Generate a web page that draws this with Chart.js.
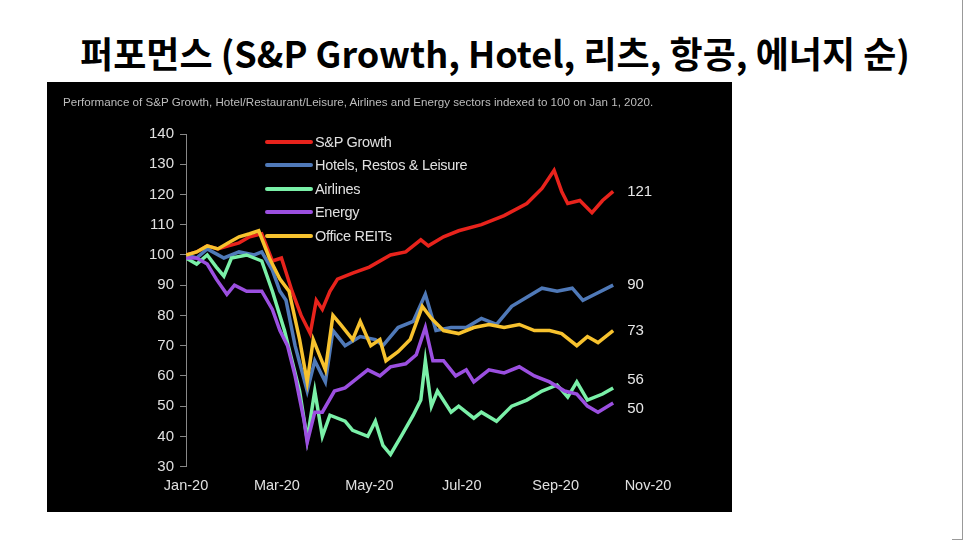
<!DOCTYPE html>
<html>
<head>
<meta charset="utf-8">
<script src="https://cdn.jsdelivr.net/npm/chart.js@4.4.0/dist/chart.umd.min.js"></script>
<style>
	body { margin: 0; width: 966px; height: 543px; background: #fff; position: relative; overflow: hidden; font-family: "Liberation Sans", Arial, sans-serif; }
	#title { position: absolute; left: 0; width: 990px; top: 26px; text-align: center; font: bold 36px "Noto Sans CJK KR", sans-serif; color: #000; }
	#panel { position: absolute; left: 47px; top: 82px; width: 685px; height: 430px; background: #000; }
	#sub { position: absolute; left: 16px; top: 13px; color: #bdbdbd; font: 11.6px "Liberation Sans", Arial, sans-serif; }
	#wrap { position: absolute; left: 0; top: 0; width: 685px; height: 430px; }
	#legend { position: absolute; left: 218px; top: 48px; color: #e0e0e0; font-size: 14.5px; letter-spacing: -0.3px; }
	#legend div { height: 23.5px; display: flex; align-items: center; }
	#legend span.sw { display: inline-block; width: 48px; height: 4px; margin-right: 2px; border-radius: 2px; }
	#edge { position: absolute; right: 3px; top: 0; bottom: 3px; border-right: 1px solid #999; border-bottom: 1px solid #999; width: 10px; }
</style>
</head>
<body>
<div id="title">퍼포먼스 (S&amp;P Growth, Hotel, 리츠, 항공, 에너지 순)</div>
<div id="panel">
	<div id="wrap"><canvas id="chart"></canvas></div>
	<div id="sub">Performance of S&amp;P Growth, Hotel/Restaurant/Leisure, Airlines and Energy sectors indexed to 100 on Jan 1, 2020.</div>
	<div id="legend"></div>
</div>
<div id="edge"></div>
<script>
'use strict';

// x values are days since Jan 1, 2020
var tickDays = [0, 60, 121, 182, 244, 305];
var tickLabels = ['Jan-20', 'Mar-20', 'May-20', 'Jul-20', 'Sep-20', 'Nov-20'];

var spgDays = [0, 7, 14, 21, 28, 35, 42, 50, 57, 63, 70, 76, 82, 86, 90, 95, 100, 110, 121, 135, 145, 155, 160, 170, 180, 195, 210, 225, 235, 243, 248, 252, 260, 268, 275, 282];
var spgVals = [100, 101, 103, 102, 103, 104, 106, 107, 98, 99, 88, 80, 74, 85, 82, 88, 92, 94, 96, 100, 101, 105, 103, 106, 108, 110, 113, 117, 122, 128, 121, 117, 118, 114, 118, 121];

var hotDays = [0, 7, 14, 25, 35, 45, 50, 57, 62, 66, 72, 80, 85, 92, 97, 105, 115, 125, 130, 140, 150, 158, 165, 175, 185, 195, 205, 215, 225, 235, 245, 255, 262, 270, 282];
var hotVals = [100, 99, 102, 99, 101, 100, 101, 95, 88, 85, 70, 55, 65, 58, 75, 70, 73, 72, 70, 76, 78, 87, 75, 76, 76, 79, 77, 83, 86, 89, 88, 89, 85, 87, 90];

var airDays = [0, 7, 14, 20, 25, 30, 40, 50, 57, 65, 75, 80, 85, 90, 95, 105, 110, 120, 125, 130, 135, 142, 150, 155, 158, 162, 166, 175, 180, 190, 195, 205, 215, 225, 235, 245, 252, 258, 265, 275, 282];
var airVals = [99, 97, 100, 96, 93, 99, 100, 98, 88, 75, 55, 39, 55, 40, 47, 45, 42, 40, 45, 37, 34, 40, 47, 52, 65, 50, 55, 48, 50, 46, 48, 45, 50, 52, 55, 57, 53, 58, 52, 54, 56];

var nrgDays = [0, 7, 14, 20, 27, 32, 40, 50, 57, 62, 67, 72, 78, 80, 85, 90, 98, 105, 110, 120, 128, 135, 145, 152, 158, 163, 170, 178, 185, 190, 200, 210, 220, 230, 240, 250, 258, 265, 272, 282];
var nrgVals = [99, 99, 97, 92, 87, 90, 88, 88, 82, 75, 70, 60, 45, 38, 48, 48, 55, 56, 58, 62, 60, 63, 64, 67, 76, 65, 65, 60, 62, 58, 62, 61, 63, 60, 58, 55, 54, 50, 48, 51];

var reitDays = [0, 7, 14, 21, 28, 35, 42, 48, 55, 62, 68, 75, 80, 84, 92, 97, 102, 110, 115, 122, 128, 132, 140, 148, 156, 162, 170, 180, 190, 200, 210, 220, 230, 240, 248, 258, 265, 272, 282];
var reitVals = [100, 101, 103, 102, 104, 106, 107, 108, 99, 92, 88, 72, 58, 72, 62, 80, 77, 72, 78, 70, 72, 65, 68, 72, 83, 79, 75, 74, 76, 77, 76, 77, 75, 75, 74, 70, 73, 71, 75];

var seriesNames = ['S&P Growth', 'Hotels, Restos & Leisure', 'Airlines', 'Energy', 'Office REITs'];
var seriesColors = ['#e8231c', '#4f79b8', '#7af0a8', '#9b4fe0', '#f7c22e'];
var endLabels = ['121', '90', '56', '50', '73'];
var endOffsets = [0, 0, -8, 6, 0];

function pts(days, vals) {
	return days.map(function(d, i) { return {x: d, y: vals[i]}; });
}

var allData = [pts(spgDays, spgVals), pts(hotDays, hotVals), pts(airDays, airVals), pts(nrgDays, nrgVals), pts(reitDays, reitVals)];

// legend
var legend = document.getElementById('legend');
seriesNames.forEach(function(n, i) {
	var row = document.createElement('div');
	row.innerHTML = '<span class="sw" style="background:' + seriesColors[i] + '"></span>' + n.replace('&', '&amp;');
	legend.appendChild(row);
});

var endLabelPlugin = {
	id: 'endLabels',
	afterDatasetsDraw: function(chart) {
		var c = chart.ctx;
		c.save();
		c.fillStyle = '#e6e6e6';
		c.font = '15px "Liberation Sans", Arial';
		c.textBaseline = 'middle';
		chart.data.datasets.forEach(function(ds) {
			var i = ds.seriesIndex;
			var last = ds.data[ds.data.length - 1];
			var x = chart.scales.x.getPixelForValue(last.x) + 14;
			var y = chart.scales.y.getPixelForValue(last.y) + endOffsets[i];
			c.fillText(endLabels[i], x, y);
		});
		c.restore();
	}
};

new Chart(document.getElementById('chart'), {
	type: 'line',
	data: {
		datasets: seriesNames.map(function(n, i) {
			return {
				label: n,
				seriesIndex: i,
				data: allData[i],
				borderColor: seriesColors[i],
				borderWidth: 3.5,
				pointRadius: 0,
				tension: 0
			};
		}).reverse()
	},
	options: {
		animation: false,
		responsive: true,
		maintainAspectRatio: false,
		layout: { padding: { left: 96, right: 84, top: 52, bottom: 14 } },
		plugins: { legend: { display: false }, tooltip: { enabled: false } },
		scales: {
			x: {
				type: 'linear',
				min: 0,
				max: 305,
				afterBuildTicks: function(axis) {
					axis.ticks = tickDays.map(function(d) { return {value: d}; });
				},
				ticks: {
					color: '#e0e0e0',
					font: { size: 14.5, family: '"Liberation Sans", Arial' },
					maxRotation: 0,
					autoSkip: false,
					callback: function(v) { return tickLabels[tickDays.indexOf(v)]; }
				},
				grid: { display: false },
				border: { display: false }
			},
			y: {
				min: 30,
				max: 140,
				ticks: {
					stepSize: 10,
					color: '#e0e0e0',
					padding: 6,
					font: { size: 15, family: '"Liberation Sans", Arial' }
				},
				grid: { display: true, drawOnChartArea: false, color: '#888', tickLength: 6 },
				border: { color: '#888' }
			}
		}
	},
	plugins: [endLabelPlugin]
});
</script>
</body>
</html>
